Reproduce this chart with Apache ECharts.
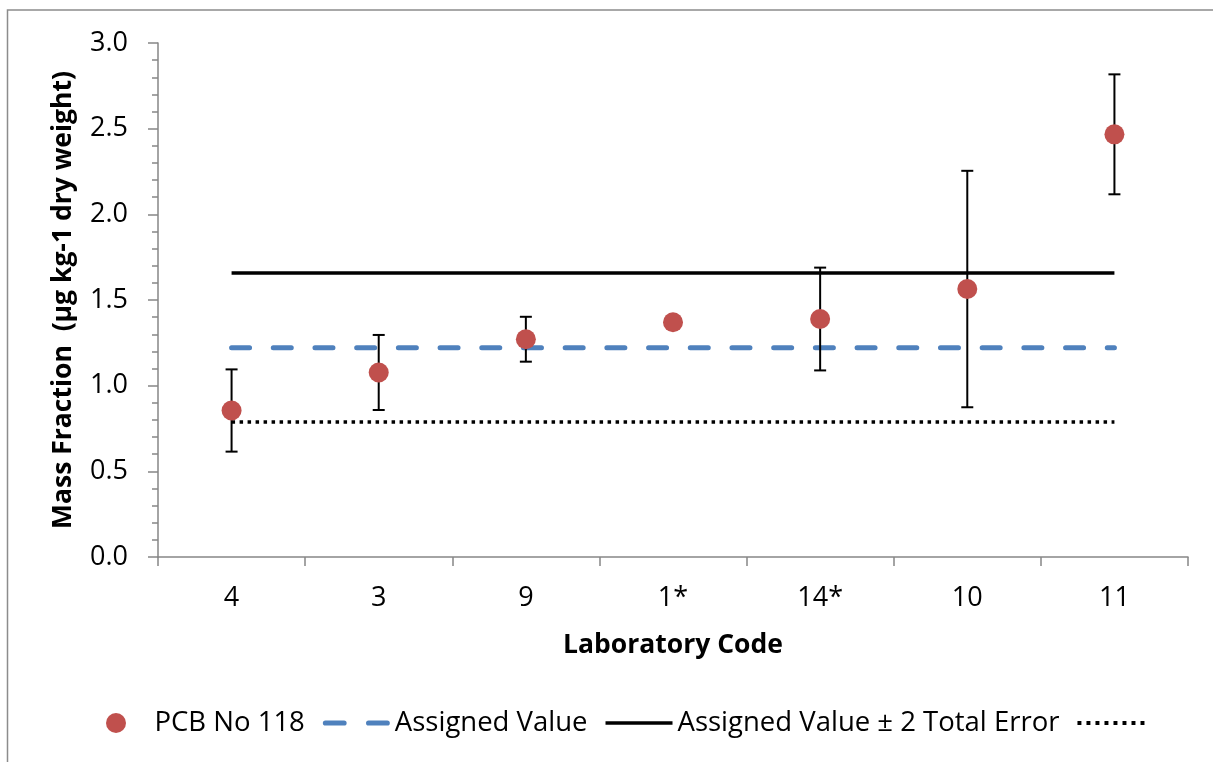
<!DOCTYPE html>
<html>
<head>
<meta charset="utf-8">
<title>PCB No 118 – Laboratory results</title>
<script src="https://cdn.jsdelivr.net/npm/echarts@6/dist/echarts.min.js"></script>
<style>
  html, body { margin: 0; padding: 0; background: #ffffff; }
  #chart { width: 1213px; height: 762px; }
</style>
</head>
<body>
<div id="chart"></div>
<script>
// Laboratory codes along the x axis
const labCodes = ['4', '3', '9', '1*', '14*', '10', '11'];
// Reported mass fractions (µg kg-1 dry weight)
const pcb118 = [0.855, 1.077, 1.271, 1.370, 1.389, 1.564, 2.467];
// Reported expanded uncertainties (null = not reported)
const pcb118Unc = [0.240, 0.219, 0.131, null, 0.300, 0.690, 0.350];
// Assigned value and the ± 2 total error limits
const assignedValue = 1.222;
const upperLimit = 1.658;
const lowerLimit = 0.788;
// Value axis ticks
const yTicks = { min: 0, max: 3, interval: 0.5 };

const FONT = '"Open Sans", "DejaVu Sans", sans-serif';
const AXIS_GREY = '#868686';
const BLUE = '#4F81BD';
const RED = '#C0504D';

const flat = v => labCodes.map(() => v);

const errorBars = [];
pcb118.forEach((v, i) => {
  if (pcb118Unc[i] != null) errorBars.push([i, v - pcb118Unc[i], v + pcb118Unc[i]]);
});

// Legend keys drawn as small paths (scaled to the key box, aspect kept)
const dashKey = 'path://M2.5,0h18a2.5,2.5 0 0 1 0,5h-18a2.5,2.5 0 0 1 0,-5z M44.2,0h18a2.5,2.5 0 0 1 0,5h-18a2.5,2.5 0 0 1 0,-5z';
const solidKey = 'path://M0,0h67v3.5h-67z';
let dotPath = 'path://';
for (let k = 0; k < 8; k++) dotPath += 'M' + (k * 8) + ',0h3.5v3.5h-3.5z ';
const dotKey = dotPath.trim();

const chart = echarts.init(document.getElementById('chart'), null, { renderer: 'canvas' });

chart.setOption({
  backgroundColor: '#ffffff',
  animation: false,
  textStyle: { fontFamily: FONT, color: '#000' },
  graphic: [{
    type: 'rect',
    shape: { x: 7.5, y: 10, width: 1240, height: 800 },
    style: { fill: 'none', stroke: '#8c8c8c', lineWidth: 1.5 },
    silent: true
  }],
  grid: { left: 158, right: 25, top: 43, bottom: 205, containLabel: false },
  xAxis: {
    type: 'category',
    data: labCodes,
    boundaryGap: true,
    name: 'Laboratory Code',
    nameLocation: 'middle',
    nameGap: 75,
    nameTextStyle: { fontFamily: FONT, fontSize: 26.5, fontWeight: 'bold', color: '#000' },
    axisLine: { lineStyle: { color: AXIS_GREY, width: 1.5 } },
    axisTick: { show: true, length: 9, alignWithLabel: false, lineStyle: { color: AXIS_GREY, width: 1.5 } },
    axisLabel: { fontFamily: FONT, fontSize: 27, color: '#000', margin: 28 },
    splitLine: { show: false }
  },
  yAxis: {
    type: 'value',
    min: yTicks.min,
    max: yTicks.max,
    interval: yTicks.interval,
    name: 'Mass Fraction  (µg kg-1 dry weight)',
    nameLocation: 'middle',
    nameRotate: 90,
    nameGap: 81,
    nameTextStyle: { fontFamily: FONT, fontSize: 26.5, fontWeight: 'bold', color: '#000' },
    axisLine: { show: true, lineStyle: { color: AXIS_GREY, width: 1.5 } },
    axisTick: { show: true, length: 10, lineStyle: { color: AXIS_GREY, width: 1.5 } },
    minorTick: { show: true, splitNumber: 5, length: 6, lineStyle: { color: AXIS_GREY, width: 1.5 } },
    axisLabel: { fontFamily: FONT, fontSize: 27, color: '#000', margin: 30, formatter: v => v.toFixed(1) },
    splitLine: { show: false }
  },
  legend: {
    data: [
      { name: 'PCB No 118', icon: 'circle', itemStyle: { color: RED, borderWidth: 0 } },
      { name: 'Assigned Value', icon: dashKey, itemStyle: { color: BLUE, borderWidth: 0 } },
      { name: 'Assigned Value ± 2 Total Error', icon: solidKey, itemStyle: { color: '#000', borderWidth: 0 } },
      { name: '\u00a0', icon: dotKey, itemStyle: { color: '#000', borderWidth: 0 } }
    ],
    left: 106,
    top: 709,
    padding: 0,
    itemWidth: 67,
    itemHeight: 20,
    itemGap: 18,
    symbolKeepAspect: true,
    textStyle: { fontFamily: FONT, fontSize: 27.5, color: '#000' }
  },
  series: [
    {
      name: 'Assigned Value',
      type: 'line',
      data: flat(assignedValue),
      symbol: 'none',
      z: 2,
      lineStyle: { color: BLUE, width: 5, type: [18, 23.7], cap: 'round' },
      itemStyle: { color: BLUE }
    },
    {
      name: 'Assigned Value ± 2 Total Error',
      type: 'line',
      data: flat(upperLimit),
      symbol: 'none',
      z: 2,
      lineStyle: { color: '#000000', width: 3.5, type: 'solid' },
      itemStyle: { color: '#000000' }
    },
    {
      name: '\u00a0',
      type: 'line',
      data: flat(lowerLimit),
      symbol: 'none',
      z: 2,
      lineStyle: { color: '#000000', width: 3.5, type: [3.5, 4.5], cap: 'butt' },
      itemStyle: { color: '#000000' }
    },
    {
      name: 'error bars',
      type: 'custom',
      data: errorBars,
      encode: { x: 0, y: [1, 2] },
      z: 3,
      silent: true,
      renderItem: function (params, api) {
        const x = api.value(0);
        const top = api.coord([x, api.value(2)]);
        const bot = api.coord([x, api.value(1)]);
        const hw = 6;
        const st = { stroke: '#000000', lineWidth: 2 };
        return {
          type: 'group',
          children: [
            { type: 'line', shape: { x1: top[0], y1: top[1], x2: bot[0], y2: bot[1] }, style: st },
            { type: 'line', shape: { x1: top[0] - hw, y1: top[1], x2: top[0] + hw, y2: top[1] }, style: st },
            { type: 'line', shape: { x1: bot[0] - hw, y1: bot[1], x2: bot[0] + hw, y2: bot[1] }, style: st }
          ]
        };
      }
    },
    {
      name: 'PCB No 118',
      type: 'scatter',
      data: pcb118,
      symbol: 'circle',
      symbolSize: 20,
      z: 4,
      itemStyle: { color: RED, opacity: 1 }
    }
  ]
});
</script>
</body>
</html>
